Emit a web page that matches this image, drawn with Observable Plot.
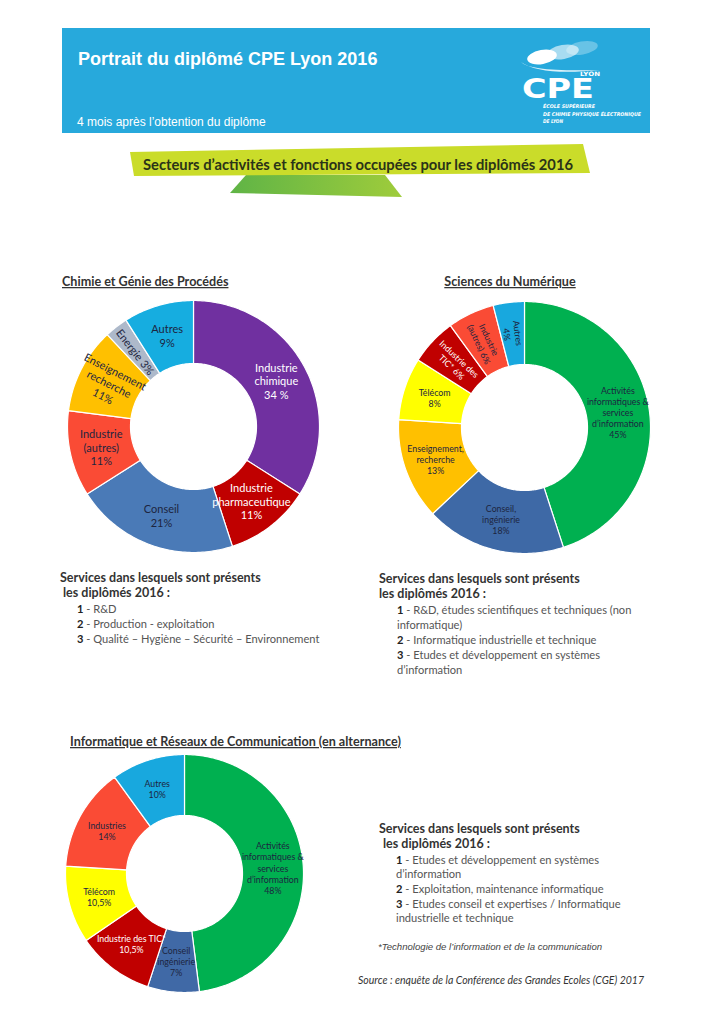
<!DOCTYPE html>
<html><head><meta charset="utf-8">
<script src="https://cdn.jsdelivr.net/npm/d3@7"></script>
<script src="https://cdn.jsdelivr.net/npm/@observablehq/plot@0.6"></script>
<style>
html,body{margin:0;padding:0;background:#fff;}
#page{position:relative;width:724px;height:1024px;overflow:hidden;}
#deco{position:absolute;left:0;top:0;}
.chart{position:absolute;}
.chart svg{overflow:visible;}
</style>
</head><body>
<div id="page">
<svg id="deco" width="724" height="1024" xmlns="http://www.w3.org/2000/svg">
  <defs>
    <linearGradient id="fold" x1="0" x2="1" y1="0" y2="0">
      <stop offset="0" stop-color="#5fb446"/><stop offset="1" stop-color="#9fcc3b"/>
    </linearGradient>
  </defs>
  <!-- header band -->
  <rect x="62" y="28" width="588" height="105" fill="#27a9dc"/>
  <text x="78" y="65" fill="#fff" font-family="Liberation Sans, Arial, sans-serif" font-weight="bold" font-size="18">Portrait du diplômé CPE Lyon 2016</text>
  <text x="77" y="126" fill="#fff" font-family="Liberation Sans, Arial, sans-serif" font-size="12">4 mois après l’obtention du diplôme</text>
  <!-- logo -->
  <g>
    <ellipse cx="582" cy="48" rx="16" ry="6.5" fill="#fff" opacity="0.3" transform="rotate(-10 582 48)"/>
    <ellipse cx="563" cy="52" rx="16" ry="7" fill="#fff" opacity="0.6" transform="rotate(-10 563 52)"/>
    <ellipse cx="542" cy="57" rx="15" ry="7" fill="#fff" transform="rotate(-10 542 57)"/>
    <path d="M521 62 Q 530 72 600 70 Q 540 76 521 62 Z" fill="#fff" opacity="0.85"/>
    <text x="580" y="75.5" fill="#fff" font-family="DejaVu Sans, sans-serif" font-weight="bold" font-size="6" textLength="20" lengthAdjust="spacingAndGlyphs">LYON</text>
    <text x="522" y="98" fill="#fff" font-family="DejaVu Sans, sans-serif" font-weight="bold" font-size="26" textLength="72" lengthAdjust="spacingAndGlyphs">CPE</text>
    <text x="543" y="108" fill="#fff" font-family="DejaVu Sans Condensed, DejaVu Sans, sans-serif" font-weight="bold" font-style="italic" font-size="5" textLength="52" lengthAdjust="spacingAndGlyphs">ÉCOLE SUPÉRIEURE</text>
    <text x="543" y="116" fill="#fff" font-family="DejaVu Sans Condensed, DejaVu Sans, sans-serif" font-weight="bold" font-style="italic" font-size="5" textLength="98" lengthAdjust="spacingAndGlyphs">DE CHIMIE PHYSIQUE ÉLECTRONIQUE</text>
    <text x="543" y="123" fill="#fff" font-family="DejaVu Sans Condensed, DejaVu Sans, sans-serif" font-weight="bold" font-style="italic" font-size="5" textLength="20" lengthAdjust="spacingAndGlyphs">DE LYON</text>
  </g>
  <!-- banner -->
  <polygon points="230,193 246,175 385,175 402,197" fill="url(#fold)"/>
  <polygon points="130,152 583,144 590,173 134,176" fill="#cadc2a"/>
  <text x="143" y="170" fill="#2a3318" font-family="Lato, sans-serif" font-weight="bold" font-size="14.5" textLength="430" lengthAdjust="spacingAndGlyphs">Secteurs d’activités et fonctions occupées pour les diplômés 2016</text>

  <!-- chart titles -->
  <g font-family="Lato, sans-serif" font-weight="bold" font-size="12.6" fill="#333" style="text-decoration:underline">
    <text x="62" y="286">Chimie et Génie des Procédés</text>
    <text x="510" y="286" text-anchor="middle">Sciences du Numérique</text>
    <text x="70" y="746">Informatique et Réseaux de Communication (en alternance)</text>
  </g>

  <!-- services blocks -->
  <g font-family="Lato, sans-serif" font-size="12.5" font-weight="bold" fill="#333">
    <text x="60" y="582">Services dans lesquels sont présents</text>
    <text x="63" y="597">les diplômés 2016 :</text>
    <text x="379" y="583">Services dans lesquels sont présents</text>
    <text x="379" y="598">les diplômés 2016 :</text>
    <text x="379" y="833">Services dans lesquels sont présents</text>
    <text x="383" y="848">les diplômés 2016 :</text>
  </g>
  <g font-family="Lato, sans-serif" font-size="11.1" fill="#555">
    <text x="77" y="613"><tspan font-weight="bold" fill="#222">1</tspan> - R&amp;D</text>
    <text x="77" y="628"><tspan font-weight="bold" fill="#222">2</tspan> - Production - exploitation</text>
    <text x="77" y="643"><tspan font-weight="bold" fill="#222">3</tspan> - Qualité – Hygiène – Sécurité – Environnement</text>

    <text x="397" y="614"><tspan font-weight="bold" fill="#222">1</tspan> - R&amp;D, études scientifiques et techniques (non</text>
    <text x="397" y="629">informatique)</text>
    <text x="397" y="644"><tspan font-weight="bold" fill="#222">2</tspan> - Informatique industrielle et technique</text>
    <text x="397" y="659"><tspan font-weight="bold" fill="#222">3</tspan> - Etudes et développement en systèmes</text>
    <text x="397" y="674">d’information</text>

    <text x="396" y="864"><tspan font-weight="bold" fill="#222">1</tspan> - Etudes et développement en systèmes</text>
    <text x="396" y="878">d’information</text>
    <text x="396" y="893"><tspan font-weight="bold" fill="#222">2</tspan> - Exploitation, maintenance informatique</text>
    <text x="396" y="908"><tspan font-weight="bold" fill="#222">3</tspan> - Etudes conseil et expertises / Informatique</text>
    <text x="396" y="922">industrielle et technique</text>
  </g>
  <text x="378" y="950" font-family="Liberation Sans, Arial, sans-serif" font-style="italic" font-size="9.6" fill="#444">*Technologie de l’information et de la communication</text>
  <text x="644" y="984" text-anchor="end" font-family="Lato, sans-serif" font-style="italic" font-size="10.5" fill="#333">Source : enquête de la Conférence des Grandes Ecoles (CGE) 2017</text>
</svg>
<div id="c1" class="chart"></div>
<div id="c2" class="chart"></div>
<div id="c3" class="chart"></div>
</div>
<script>
// ---------- DATA ----------
// Chimie et Génie des Procédés
const chimieSecteurs = ["Industrie chimique", "Industrie pharmaceutique", "Conseil", "Industrie (autres)", "Enseignement recherche", "Energie", "Autres"];
const chimieValeurs = [34, 11, 21, 11, 11, 3, 9];
const chimieLabels = ["Industrie\nchimique\n34 %", "Industrie\npharmaceutique\n11%", "Conseil\n21%", "Industrie\n(autres)\n11%", "Enseignement\nrecherche\n11%", "Energie 3%", "Autres\n9%"];

// Sciences du Numérique
const numSecteurs = ["Activités informatiques & services d'information", "Conseil, ingénierie", "Enseignement, recherche", "Télécom", "Industrie des TIC*", "Industrie (autres)", "Autres"];
const numValeurs = [45, 18, 13, 8, 6, 6, 4];
const numLabels = ["Activités\ninformatiques &\nservices\nd’information\n45%", "Conseil,\ningénierie\n18%", "Enseignement,\nrecherche\n13%", "Télécom\n8%", "Industrie des\nTIC* 6%", "Industrie\n(autres) 6%", "Autres\n4%"];

// Informatique et Réseaux de Communication (en alternance)
const ircSecteurs = ["Activités informatiques & services d'information", "Conseil ingénierie", "Industrie des TIC*", "Télécom", "Industries", "Autres"];
const ircValeurs = [48, 7, 10.5, 10.5, 14, 10];
const ircLabels = ["Activités\ninformatiques &\nservices\nd’information\n48%", "Conseil\ningénierie\n7%", "Industrie des TIC*\n10,5%", "Télécom\n10,5%", "Industries\n14%", "Autres\n10%"];

// ---------- STYLES ----------
const chimiePalette = {"Industrie chimique": "#7030a0", "Industrie pharmaceutique": "#c00000", "Conseil": "#4a7ab7", "Industrie (autres)": "#fa4b35", "Enseignement recherche": "#ffc000", "Energie": "#adb9ca", "Autres": "#16ade0"};
const numPalette = {"Activités informatiques & services d'information": "#00b050", "Conseil, ingénierie": "#3e69a6", "Enseignement, recherche": "#ffc000", "Télécom": "#ffff00", "Industrie des TIC*": "#c00000", "Industrie (autres)": "#fa4b35", "Autres": "#18a8de"};
const ircPalette = {"Activités informatiques & services d'information": "#00b050", "Conseil ingénierie": "#4069a6", "Industrie des TIC*": "#c00000", "Télécom": "#ffff00", "Industries": "#fa4b35", "Autres": "#18a8de"};

function donut(el, secteurs, valeurs, labels, opt) {
  const {palette, light, radial, R, r, half, cx, cy, fontSize, lineHeight, labelR} = opt;
  const total = d3.sum(valeurs);
  let acc = 0;
  const slices = secteurs.map((s, i) => {
    const a0 = acc / total * 2 * Math.PI; acc += valeurs[i];
    const a1 = acc / total * 2 * Math.PI;
    return {secteur: s, label: labels[i], a0, a1, am: (a0 + a1) / 2};
  });
  const pts = slices.flatMap(sl => {
    const n = Math.max(2, Math.ceil((sl.a1 - sl.a0) / (Math.PI / 180)));
    const out = [];
    for (let k = 0; k <= n; k++) { const a = sl.a0 + (sl.a1 - sl.a0) * k / n; out.push({secteur: sl.secteur, x: R * Math.sin(a), y: R * Math.cos(a)}); }
    for (let k = n; k >= 0; k--) { const a = sl.a0 + (sl.a1 - sl.a0) * k / n; out.push({secteur: sl.secteur, x: r * Math.sin(a), y: r * Math.cos(a)}); }
    return out;
  });
  const lr = labelR ?? (R + r) / 2;
  const labs = slices.map(sl => ({
    text: sl.label,
    x: lr * Math.sin(sl.am),
    y: lr * Math.cos(sl.am),
    rotate: radial.includes(sl.secteur) ? sl.am * 180 / Math.PI - 270 : 0,
    light: light.includes(sl.secteur)
  }));
  const textOpts = {x: "x", y: "y", text: "text", rotate: "rotate", fontSize, lineHeight, fontFamily: "Lato, sans-serif"};
  const plot = Plot.plot({
    width: 2 * half, height: 2 * half, margin: 0,
    x: {domain: [-half, half], axis: null},
    y: {domain: [-half, half], axis: null},
    color: {domain: secteurs, range: secteurs.map(s => palette[s])},
    style: {background: "transparent", overflow: "visible"},
    marks: [
      Plot.line(pts, {x: "x", y: "y", z: "secteur", fill: "secteur", stroke: "white", strokeWidth: 1.2, curve: "linear-closed"}),
      Plot.text(labs.filter(d => !d.light), {...textOpts, fill: "#1d2540"}),
      Plot.text(labs.filter(d => d.light), {...textOpts, fill: "#ffffff"})
    ]
  });
  const box = document.getElementById(el);
  box.style.left = (cx - half) + "px";
  box.style.top = (cy - half) + "px";
  box.appendChild(plot);
}

donut("c1", chimieSecteurs, chimieValeurs, chimieLabels, {
  palette: chimiePalette, light: ["Industrie chimique", "Industrie pharmaceutique"],
  radial: ["Energie", "Enseignement recherche"],
  R: 126, r: 63, half: 132, cx: 193, cy: 426, fontSize: 11, lineHeight: 1.25
});
donut("c2", numSecteurs, numValeurs, numLabels, {
  palette: numPalette, light: ["Industrie des TIC*"],
  radial: ["Industrie des TIC*", "Industrie (autres)", "Autres"],
  R: 126, r: 63, half: 132, cx: 524, cy: 427, fontSize: 8.8, lineHeight: 1.25
});
donut("c3", ircSecteurs, ircValeurs, ircLabels, {
  palette: ircPalette, light: ["Industrie des TIC*"],
  radial: [],
  R: 119, r: 58, half: 124, cx: 183.5, cy: 873, fontSize: 8.8, lineHeight: 1.27
});
</script>
</body></html>
